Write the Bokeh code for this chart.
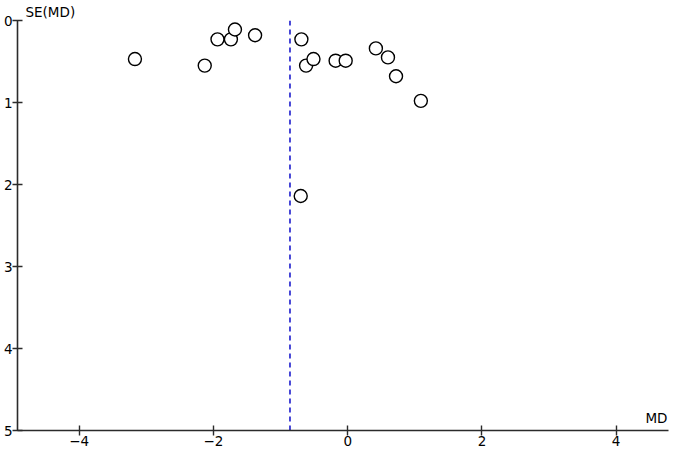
from bokeh.plotting import figure
from bokeh.models import Range1d, FixedTicker, Label, ColumnDataSource, Title
from bokeh.embed import file_html
from bokeh.resources import INLINE

# Study estimates (mean difference) and their standard errors
md = [-3.17, -2.13, -1.94, -1.74, -1.68, -1.38, -0.69, -0.62, -0.51, -0.18, -0.03,
      0.42, 0.60, 0.72, 1.09, -0.70]
se = [0.47, 0.55, 0.23, 0.23, 0.11, 0.18, 0.23, 0.55, 0.47, 0.49, 0.49,
      0.34, 0.45, 0.68, 0.98, 2.14]
pooled_md = -0.86
x_ticks = [-4, -2, 0, 2, 4]
y_ticks = [0, 1, 2, 3, 4, 5]
x_lim = (-4.92, 4.78)
y_lim = (5, 0)

FONT = "DejaVu Sans"
AXIS_COLOR = "#2b2b2b"

p = figure(width=670, height=448, output_backend="svg", toolbar_location=None,
           x_range=Range1d(*x_lim), y_range=Range1d(*y_lim),
           min_border_top=17, min_border_right=2, min_border_left=4, min_border_bottom=2)
p.outline_line_color = None
p.grid.visible = False
p.background_fill_color = "white"

p.add_layout(Title(text="SE(MD)", align="left", offset=8, standoff=2,
                   text_font=FONT, text_font_size="13.5px", text_font_style="normal",
                   text_color="black"), "above")

for ax in (p.xaxis[0], p.yaxis[0]):
    ax.axis_line_color = AXIS_COLOR
    ax.axis_line_width = 1.6
    ax.major_tick_line_color = AXIS_COLOR
    ax.major_tick_line_width = 1.4
    ax.major_tick_in = 5
    ax.major_tick_out = 5
    ax.minor_tick_line_color = None
    ax.major_label_text_font = FONT
    ax.major_label_text_font_size = "13.5px"
    ax.major_label_text_color = "black"
    ax.major_label_standoff = 0

p.xaxis[0].ticker = FixedTicker(ticks=x_ticks)
p.yaxis[0].ticker = FixedTicker(ticks=y_ticks)

# pooled estimate line
src_line = ColumnDataSource(dict(x=[pooled_md, pooled_md], y=[y_lim[1], y_lim[0]]))
p.line("x", "y", source=src_line, line_color="#1a1acc", line_width=1.6, line_dash="5 4")

src = ColumnDataSource(dict(x=md, y=se))
p.scatter("x", "y", source=src, marker="circle", size=13, fill_color="white",
          line_color="black", line_width=1.4)

p.add_layout(Label(x=x_lim[1], y=y_lim[0], text="MD", x_offset=-1, y_offset=5,
                   text_font=FONT, text_font_size="13.5px", text_baseline="bottom",
                   text_align="right", text_color="black"))

open("out.html", "w").write(file_html(p, INLINE))
